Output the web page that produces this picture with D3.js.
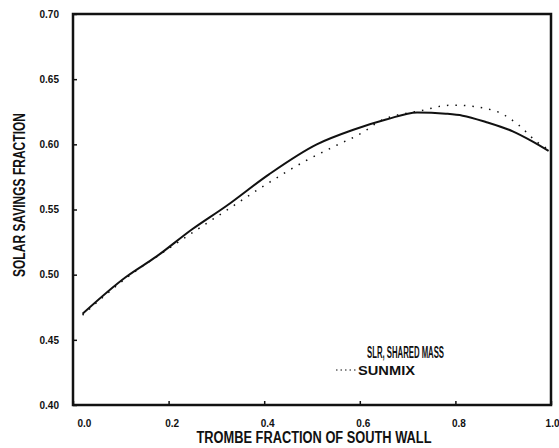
<!DOCTYPE html>
<html>
<head>
<meta charset="utf-8">
<script src="https://cdn.jsdelivr.net/npm/d3@7"></script>
<style>
  body { margin: 0; background: #fff; }
  svg { display: block; }
  text { font-family: "Liberation Sans", Arial, sans-serif; fill: #111; }
</style>
</head>
<body>
<div id="chart"></div>
<script>
// SLR curve (solid)
var slrX = [0.02, 0.11, 0.175, 0.25, 0.32, 0.41, 0.51, 0.585, 0.655, 0.72, 0.78, 0.815, 0.865, 0.92, 0.96, 0.995];
var slrY = [0.470, 0.498, 0.514, 0.535, 0.5525, 0.577, 0.600, 0.611, 0.619, 0.6245, 0.6235, 0.622, 0.617, 0.610, 0.6025, 0.595];

// SUNMIX (dotted)
var sunX = [0.02, 0.11, 0.20, 0.33, 0.39, 0.49, 0.55, 0.61, 0.64, 0.73, 0.79, 0.80, 0.88, 0.93, 0.97, 0.995];
var sunY = [0.469, 0.497, 0.520, 0.5515, 0.566, 0.588, 0.599, 0.610, 0.6175, 0.626, 0.630, 0.630, 0.626, 0.6155, 0.602, 0.596];

var xTicks = [0.0, 0.2, 0.4, 0.6, 0.8, 1.0];
var yTicks = [0.40, 0.45, 0.50, 0.55, 0.60, 0.65, 0.70];

var W = 559, H = 448;
var margin = {top: 14, right: 8, bottom: 43, left: 73};

var svg = d3.select("#chart").append("svg")
  .attr("width", W)
  .attr("height", H);

var x = d3.scaleLinear().domain([0, 1]).range([margin.left, W - margin.right]);
var y = d3.scaleLinear().domain([0.40, 0.70]).range([H - margin.bottom, margin.top]);

// axes, ticks pointing inward
var xAxis = svg.append("g")
  .attr("transform", "translate(0," + (H - margin.bottom) + ")")
  .call(d3.axisBottom(x).tickValues(xTicks).tickSizeInner(-4).tickSizeOuter(0).tickPadding(15).tickFormat(d3.format(".1f")));
var yAxis = svg.append("g")
  .attr("transform", "translate(" + margin.left + ",0)")
  .call(d3.axisLeft(y).tickValues(yTicks).tickSizeInner(-4).tickSizeOuter(0).tickPadding(14).tickFormat(d3.format(".2f")));

[xAxis, yAxis].forEach(function(g) {
  g.select(".domain").remove();
  g.selectAll(".tick line").attr("stroke", "#111").attr("stroke-width", 1.5);
  g.selectAll(".tick text")
    .attr("font-size", 10)
    .attr("font-weight", "bold")
    .attr("font-family", "Liberation Sans, Arial, sans-serif")
    .attr("fill", "#111");
});
// first label sits right of the corner, last one runs into the edge
xAxis.selectAll(".tick text")
  .attr("dx", function(d) { return d === 0 ? 4 : (d === 1 ? 0 : 3); })
  .attr("text-anchor", function(d) { return d === 0 ? "start" : (d === 1 ? "end" : "middle"); })
  .attr("x", function(d) { return d === 1 ? 8 : 0; });

// frame
svg.append("rect")
  .attr("x", margin.left)
  .attr("y", margin.top)
  .attr("width", W - margin.left - margin.right)
  .attr("height", H - margin.top - margin.bottom)
  .attr("fill", "none")
  .attr("stroke", "#111")
  .attr("stroke-width", 2.5);

var line = d3.line()
  .x(function(d) { return x(d[0]); })
  .y(function(d) { return y(d[1]); })
  .curve(d3.curveMonotoneX);

svg.append("path")
  .datum(d3.zip(sunX, sunY))
  .attr("d", line)
  .attr("fill", "none")
  .attr("stroke", "#111")
  .attr("stroke-width", 1.5)
  .attr("stroke-dasharray", "1.5,7");

svg.append("path")
  .datum(d3.zip(slrX, slrY))
  .attr("d", line)
  .attr("fill", "none")
  .attr("stroke", "#111")
  .attr("stroke-width", 2);

// axis titles
svg.append("text")
  .attr("x", 314)
  .attr("y", 443)
  .attr("text-anchor", "middle")
  .attr("font-size", 16)
  .attr("font-weight", "bold")
  .attr("textLength", 235)
  .attr("lengthAdjust", "spacingAndGlyphs")
  .text("TROMBE FRACTION OF SOUTH WALL");

svg.append("text")
  .attr("transform", "translate(25,195) rotate(-90)")
  .attr("text-anchor", "middle")
  .attr("font-size", 16)
  .attr("font-weight", "bold")
  .attr("textLength", 164)
  .attr("lengthAdjust", "spacingAndGlyphs")
  .text("SOLAR SAVINGS FRACTION");

// legend
svg.append("text")
  .attr("x", 367)
  .attr("y", 358)
  .attr("font-size", 16)
  .attr("font-weight", "bold")
  .attr("textLength", 77)
  .attr("lengthAdjust", "spacingAndGlyphs")
  .text("SLR, SHARED MASS");

svg.append("line")
  .attr("x1", 336).attr("x2", 357)
  .attr("y1", 370).attr("y2", 370)
  .attr("stroke", "#111")
  .attr("stroke-width", 1.2)
  .attr("stroke-dasharray", "1.5,3");

svg.append("text")
  .attr("x", 358)
  .attr("y", 375)
  .attr("font-size", 13)
  .attr("font-weight", "bold")
  .attr("textLength", 57)
  .attr("lengthAdjust", "spacingAndGlyphs")
  .text("SUNMIX");
</script>
</body>
</html>
